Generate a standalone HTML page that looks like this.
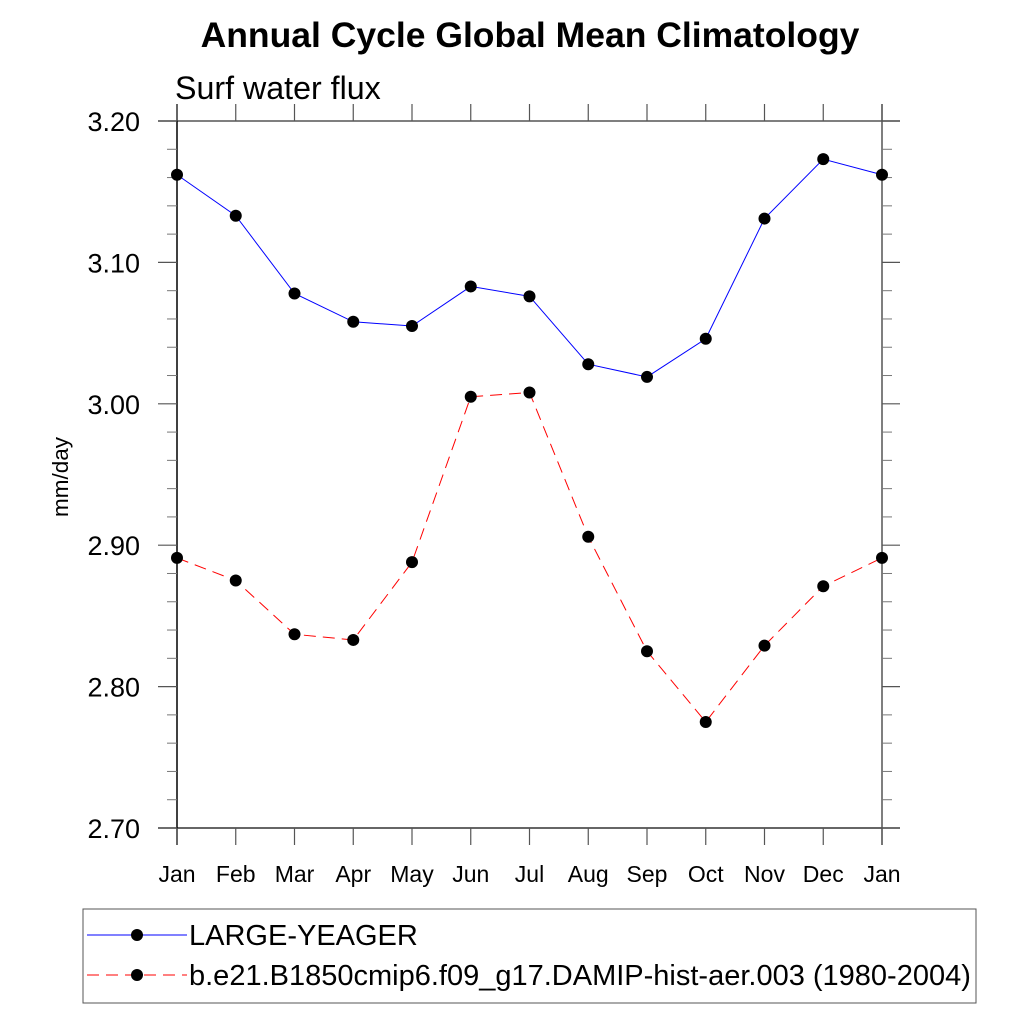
<!DOCTYPE html>
<html><head><meta charset="utf-8"><style>
body{margin:0;background:#fff}
svg text{font-family:"Liberation Sans",sans-serif}
</style></head><body>
<svg id="c" width="1024" height="1024" viewBox="0 0 1024 1024">
<text x="530" y="47" font-size="35.5" font-weight="bold" text-anchor="middle">Annual Cycle Global Mean Climatology</text>
<text x="175" y="99" font-size="32.2">Surf water flux</text>
<text transform="translate(68,477) rotate(-90)" font-size="22.5" text-anchor="middle">mm/day</text>
<g id="axes"></g>
<g id="series"></g>
<rect x="83" y="909" width="893" height="94" fill="none" stroke="#555" stroke-width="1"/>
<g>
<line x1="87" y1="935" x2="187" y2="935" stroke="#00f" stroke-width="1"/>
<circle cx="137" cy="935" r="6" fill="#000"/>
<text x="189" y="945" font-size="29">LARGE-YEAGER</text>
</g>
<g>
<line x1="87" y1="975" x2="187" y2="975" stroke="#f00" stroke-width="1" stroke-dasharray="12,7"/>
<circle cx="137" cy="975" r="6" fill="#000"/>
<text x="189" y="985" font-size="29">b.e21.B1850cmip6.f09_g17.DAMIP-hist-aer.003 (1980-2004)</text>
</g>
</svg>
<script>
const months = ["Jan","Feb","Mar","Apr","May","Jun","Jul","Aug","Sep","Oct","Nov","Dec","Jan"];
const yTicks = ["3.20","3.10","3.00","2.90","2.80","2.70"];
const obsValues = [3.162,3.133,3.078,3.058,3.055,3.083,3.076,3.028,3.019,3.046,3.131,3.173,3.162];
const modelValues = [2.891,2.875,2.837,2.833,2.888,3.005,3.008,2.906,2.825,2.775,2.829,2.871,2.891];

const X0=177,X1=882,Y0=121,Y1=828,YMIN=2.70,YMAX=3.20;
const xs=i=>X0+i*(X1-X0)/(months.length-1);
const ys=v=>Y1-(v-YMIN)/(YMAX-YMIN)*(Y1-Y0);
const NS="http://www.w3.org/2000/svg";
function mk(tag,attrs,parent){const e=document.createElementNS(NS,tag);for(const k in attrs)e.setAttribute(k,attrs[k]);parent.appendChild(e);return e;}
const ax=document.getElementById('axes');
let e;
e=mk('line',{x1:158,y1:Y0,x2:900,y2:Y0,stroke:'#555','stroke-width':1.5},ax);


e=mk('line',{x1:158,y1:Y1,x2:900,y2:Y1,stroke:'#333','stroke-width':1.5},ax);


e=mk('line',{x1:X0,y1:104,x2:X0,y2:845,stroke:'#000','stroke-width':1.5},ax);


e=mk('line',{x1:X1,y1:104,x2:X1,y2:845,stroke:'#555','stroke-width':1.5},ax);


months.forEach((m,i)=>{
  const x=xs(i);
  mk('line',{x1:x,y1:104,x2:x,y2:Y0,stroke:'#555','stroke-width':1.2},ax);
  mk('line',{x1:x,y1:Y1,x2:x,y2:845,stroke:'#555','stroke-width':1.2},ax);
  const t=mk('text',{x:x,y:882,'font-size':23,'text-anchor':'middle'},ax);
  t.textContent=m;
  
  
});
yTicks.forEach(s=>{
  const y=ys(parseFloat(s));
  mk('line',{x1:158,y1:y,x2:X0,y2:y,stroke:'#555','stroke-width':1.2},ax);
  mk('line',{x1:X1,y1:y,x2:900,y2:y,stroke:'#555','stroke-width':1.2},ax);
  const t=mk('text',{x:140,y:y+10,'font-size':27,'text-anchor':'end'},ax);
  t.textContent=s;
  
  
});
for(let k=1;k<25;k++){
  if(k%5===0)continue;
  const y=ys(YMIN+k*0.02);
  mk('line',{x1:167,y1:y,x2:X0,y2:y,stroke:'#777','stroke-width':1},ax);
  mk('line',{x1:X1,y1:y,x2:892,y2:y,stroke:'#777','stroke-width':1},ax);
}
const sg=document.getElementById('series');
function draw(vals,color,dash,name){
  const g=mk('g',{},sg);
  
  
  const pts=vals.map((v,i)=>xs(i)+','+ys(v)).join(' ');
  const p=mk('polyline',{points:pts,fill:'none',stroke:color,'stroke-width':1},g);
  if(dash)p.setAttribute('stroke-dasharray',dash);
  vals.forEach((v,i)=>{
    const c=mk('circle',{cx:xs(i),cy:ys(v),r:6,fill:'#000'},g);
    
    
  });
}
draw(obsValues,'#00f',null,'series-large-yeager');
draw(modelValues,'#f00','12,7','series-damip');
</script>
</body></html>
